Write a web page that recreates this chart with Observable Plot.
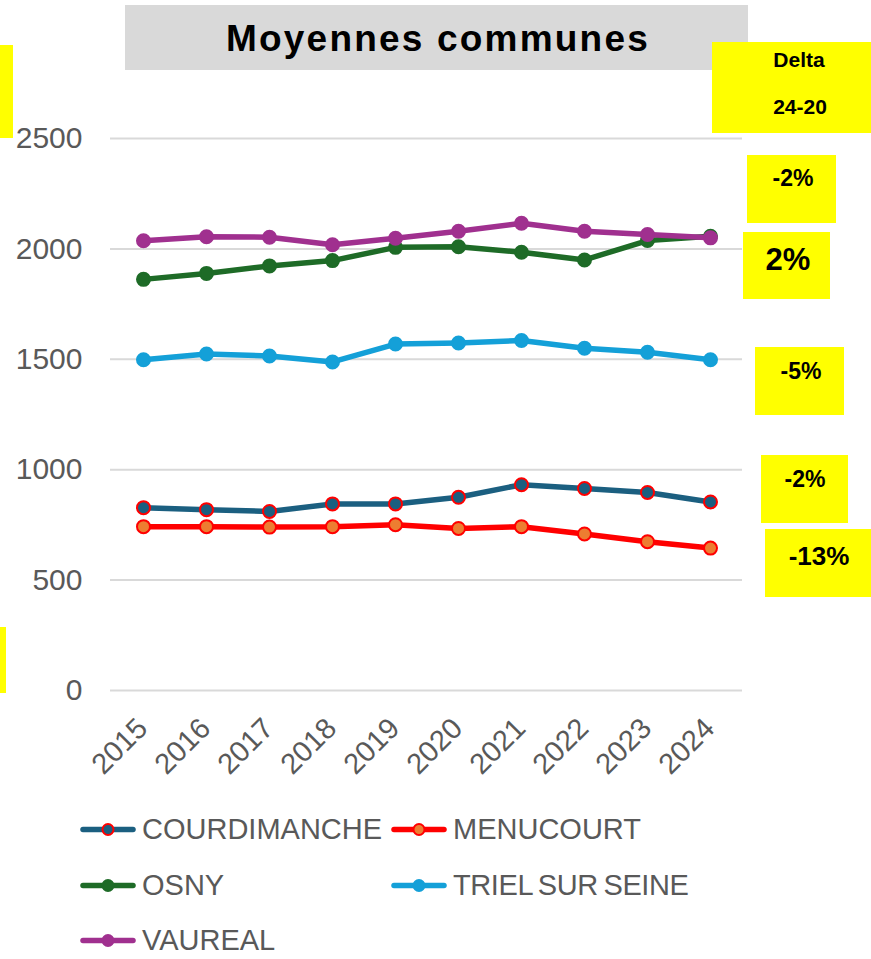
<!DOCTYPE html>
<html><head><meta charset="utf-8">
<script src="https://cdn.jsdelivr.net/npm/d3@7"></script>
<script src="https://cdn.jsdelivr.net/npm/@observablehq/plot@0.6"></script>
<style>
body{margin:0;background:#fff;}
#wrap{position:relative;width:871px;height:959px;overflow:hidden;font-family:"Liberation Sans",Arial,sans-serif;background:#fff;}
#chart{position:absolute;left:0;top:0;}
.box{position:absolute;background:#ffff00;}
.dl{position:absolute;transform:translate(-50%,-50%);font-weight:bold;color:#000;white-space:nowrap;line-height:1;}
#title{position:absolute;left:125px;top:5px;width:623px;height:65px;background:#d9d9d9;}
#title span{position:absolute;left:313px;top:33px;transform:translate(-50%,-50%);font-weight:bold;font-size:37px;letter-spacing:2.2px;color:#000;white-space:nowrap;line-height:1;}
.leg{position:absolute;display:flex;align-items:center;font-size:29px;color:#595959;white-space:pre;line-height:1;transform:translateY(-50%);}
.leg svg{margin-right:6px;}
</style></head><body><div id="wrap"></div>
<script>
// ---- data ----
const years = [2015, 2016, 2017, 2018, 2019, 2020, 2021, 2022, 2023, 2024];
const seriesNames = ["COURDIMANCHE", "MENUCOURT", "OSNY", "TRIEL SUR SEINE", "VAUREAL"];
const courdimanche = [828, 819, 811, 845, 845, 875, 932, 915, 897, 854];
const menucourt = [742, 742, 740, 742, 751, 734, 742, 709, 674, 645];
const osny = [1862, 1889, 1923, 1947, 2007, 2010, 1985, 1950, 2038, 2057];
const triel = [1498, 1524, 1515, 1488, 1569, 1574, 1585, 1550, 1532, 1498];
const vaureal = [2037, 2055, 2053, 2019, 2048, 2080, 2116, 2080, 2065, 2050];
const yTicks = [0, 500, 1000, 1500, 2000, 2500];
const titleText = "Moyennes communes";
const deltaHeader = ["Delta", "24-20"];
const deltaSeries = ["VAUREAL", "OSNY", "TRIEL SUR SEINE", "COURDIMANCHE", "MENUCOURT"];
const deltaLabels = ["-2%", "2%", "-5%", "-2%", "-13%"];

// ---- styles ----
const lineColor = {"COURDIMANCHE":"#1b5f80","MENUCOURT":"#ff0000","OSNY":"#1e6b27","TRIEL SUR SEINE":"#14a0d8","VAUREAL":"#a0308f"};
const dotFill = {"COURDIMANCHE":"#1b5f80","MENUCOURT":"#ed7d31","OSNY":"#1e6b27","TRIEL SUR SEINE":"#14a0d8","VAUREAL":"#a0308f"};
const dotStroke = {"COURDIMANCHE":"#ff0000","MENUCOURT":"#ff0000","OSNY":"#1e6b27","TRIEL SUR SEINE":"#14a0d8","VAUREAL":"#a0308f"};

const valuesBySeries = {"COURDIMANCHE":courdimanche,"MENUCOURT":menucourt,"OSNY":osny,"TRIEL SUR SEINE":triel,"VAUREAL":vaureal};
const rows = seriesNames.flatMap(s => years.map((yr, i) => ({series: s, year: yr, value: valuesBySeries[s][i]})));

const marks = [
  Plot.gridY(yTicks, {stroke: "#d9d9d9", strokeOpacity: 1, strokeWidth: 2}),
  Plot.axisY(yTicks, {tickSize: 0, tickPadding: 28, fontSize: 30, fill: "#595959", tickFormat: d => String(d)}),
  Plot.axisX({tickRotate: -45, tickSize: 0, tickPadding: 0, fontSize: 29, fill: "#595959", dx: -1, dy: 33, tickFormat: d => String(d)})
];
for (const s of seriesNames) {
  const d = rows.filter(r => r.series === s);
  marks.push(Plot.line(d, {x: "year", y: "value", stroke: lineColor[s], strokeWidth: 5.5, strokeLinejoin: "round"}));
  marks.push(Plot.dot(d, {x: "year", y: "value", r: 6.5, fill: dotFill[s], stroke: dotStroke[s], strokeWidth: 2}));
}

const chart = Plot.plot({
  width: 871, height: 959,
  marginTop: 138, marginBottom: 269, marginLeft: 110, marginRight: 129,
  style: {fontFamily: "'Liberation Sans', Arial, sans-serif", background: "transparent"},
  x: {type: "point", domain: years, padding: 0.5, label: null},
  y: {domain: [0, 2500], label: null},
  marks
});
chart.id = "chart";
const wrap = document.getElementById("wrap");
wrap.appendChild(chart);

function add(html) { wrap.insertAdjacentHTML("beforeend", html); }

// title
add(`<div id="title"><span>${titleText}</span></div>`);
// left yellow strips
add(`<div class="box" style="left:0;top:45px;width:13px;height:93px"></div>`);
add(`<div class="box" style="left:0;top:627px;width:6px;height:66px"></div>`);
// delta header
add(`<div class="box" style="left:712px;top:42px;width:159px;height:91px"></div>`);
add(`<div class="dl" style="left:799px;top:59px;font-size:21px">${deltaHeader[0]}</div>`);
add(`<div class="dl" style="left:800px;top:106px;font-size:21px">${deltaHeader[1]}</div>`);
// delta boxes (layout)
const deltaLayout = [
  {l:747,t:155,w:89,h:68,cx:793,cy:178,fs:23},
  {l:743,t:232,w:87,h:67,cx:788,cy:259,fs:31},
  {l:755,t:347,w:89,h:68,cx:801,cy:371,fs:23},
  {l:761,t:455,w:87,h:68,cx:805,cy:479,fs:23},
  {l:765,t:529,w:106,h:68,cx:819,cy:556,fs:26}
];
deltaLabels.forEach((lab, i) => {
  const b = deltaLayout[i];
  add(`<div class="box" style="left:${b.l}px;top:${b.t}px;width:${b.w}px;height:${b.h}px"></div>`);
  add(`<div class="dl" style="left:${b.cx}px;top:${b.cy}px;font-size:${b.fs}px">${lab}</div>`);
});
// legend
const legPos = [[80,829],[391,829],[80,885],[391,885],[80,940]];
seriesNames.forEach((s, i) => {
  const [lx, ly] = legPos[i];
  const ls = s === "TRIEL SUR SEINE" ? "letter-spacing:-0.4px;word-spacing:-2px" : "";
  add(`<div class="leg" style="left:${lx}px;top:${ly}px;${ls}"><svg width="56" height="16"><line x1="3" y1="8" x2="53" y2="8" stroke="${lineColor[s]}" stroke-width="5.5" stroke-linecap="round"/><circle cx="28" cy="8" r="5.5" fill="${dotFill[s]}" stroke="${dotStroke[s]}" stroke-width="2"/></svg><span>${s}</span></div>`);
});
</script>
</body></html>
